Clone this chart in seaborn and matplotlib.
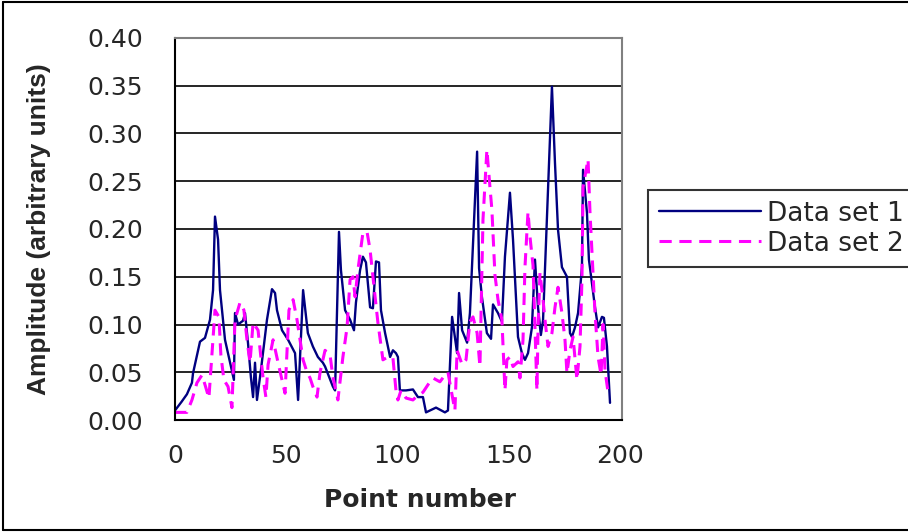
import matplotlib
matplotlib.use("Agg")
import matplotlib.pyplot as plt
import matplotlib.ticker as mticker
import matplotlib.transforms as mtransforms
import seaborn as sns

# valores
ds1_x = [0, 3, 5.5, 7.8, 8.3, 11.5, 13.8, 16.1, 17.5, 18.4, 19.8, 20.7, 23.0, 27.1, 27.6,
         29.0, 31.3, 32.2, 33.6, 34.9, 35.9, 36.8, 37.7, 39.5, 42.3, 44.6, 46.0, 46.9, 49.2,
         52.0, 55.2, 56.6, 58.9, 61.1, 63.4, 65.7, 68.0, 69.0, 72.6, 73.6, 75.4, 76.3, 78.2,
         80.5, 82.3, 83.2, 85.1, 86.4, 87.8, 89.7, 91.0, 92.4, 93.8, 94.7, 96.6, 98.9, 100.2,
         101.6, 102.5, 103.4, 106.2, 109.4, 111.7, 114.0, 115.4, 120.0, 124.1, 125.5, 127.4,
         129.7, 130.6, 132.0, 134.3, 135.6, 138.9, 139.8, 141.1, 143.4, 145.3, 146.2, 148.5,
         150.3, 151.7, 154.0, 155.4, 157.7, 159.5, 160.9, 162.3, 164.1, 165.5, 166.9, 168.2,
         169.2, 173.3, 174.7, 176.1, 177.9, 180.2, 181.6, 182.5, 183.9, 185.3, 187.1, 187.6,
         189.4, 190.3, 193.1, 194.5, 196.3, 197.2, 198.6, 200.0]
ds1_y = [0.010, 0.019, 0.027, 0.039, 0.049, 0.082, 0.086, 0.105, 0.136, 0.213, 0.189, 0.136,
         0.084, 0.042, 0.112, 0.100, 0.104, 0.112, 0.080, 0.045, 0.024, 0.060, 0.021, 0.052,
         0.105, 0.137, 0.133, 0.115, 0.094, 0.084, 0.070, 0.021, 0.136, 0.091, 0.077, 0.066,
         0.060, 0.056, 0.035, 0.031, 0.197, 0.157, 0.115, 0.105, 0.094, 0.123, 0.157, 0.171,
         0.165, 0.118, 0.117, 0.166, 0.165, 0.115, 0.091, 0.066, 0.073, 0.070, 0.066, 0.031,
         0.031, 0.032, 0.024, 0.024, 0.008, 0.013, 0.008, 0.010, 0.108, 0.070, 0.133, 0.094,
         0.081, 0.112, 0.281, 0.159, 0.129, 0.091, 0.085, 0.121, 0.112, 0.103, 0.171, 0.238,
         0.189, 0.087, 0.070, 0.063, 0.070, 0.097, 0.168, 0.118, 0.089, 0.104, 0.349, 0.269,
         0.199, 0.160, 0.150, 0.091, 0.087, 0.097, 0.112, 0.160, 0.262, 0.217, 0.168, 0.118,
         0.097, 0.108, 0.107, 0.077, 0.018]

ds2_x = [0, 5.5, 7.8, 10.1, 12.4, 13.8, 15.6, 18.4, 20.2, 21.1, 22.5, 24.4, 26.2, 27.6, 29.9,
         31.7, 33.1, 34.5, 35.9, 38.2, 40.5, 41.8, 42.8, 45.1, 47.4, 49.7, 50.6, 52.4, 54.3,
         56.1, 57.5, 58.9, 60.7, 62.1, 63.4, 65.3, 66.7, 69.0, 71.3, 72.6, 74.9, 77.2, 79.1,
         80.5, 81.8, 82.8, 84.1, 86.4, 88.3, 89.7, 92.0, 93.3, 95.6, 97.9, 100.2, 101.6, 102.5,
         103.9, 106.2, 109.4, 110.8, 114.0, 117.2, 118.6, 121.8, 124.1, 125.5, 127.4, 128.7,
         129.7, 132.0, 133.8, 135.6, 137.0, 138.9, 140.2, 141.6, 143.4, 144.8, 145.7, 147.1,
         148.5, 150.3, 151.7, 152.6, 154.0, 155.4, 157.7, 158.6, 160.0, 160.9, 162.3, 163.2,
         164.6, 165.5, 166.4, 166.9, 167.8, 169.2, 170.1, 171.5, 173.3, 174.7, 176.1, 177.9,
         179.3, 180.2, 181.6, 183.0, 184.8, 186.2, 187.1, 187.6, 189.9, 190.8, 193.1, 194.5,
         195.9, 196.8, 197.7, 199.1]
ds2_y = [0.008, 0.008, 0.021, 0.039, 0.047, 0.037, 0.023, 0.115, 0.108, 0.068, 0.042, 0.035,
         0.013, 0.105, 0.123, 0.115, 0.084, 0.060, 0.102, 0.094, 0.044, 0.024, 0.058, 0.084,
         0.060, 0.037, 0.028, 0.115, 0.126, 0.105, 0.084, 0.063, 0.050, 0.044, 0.035, 0.024,
         0.050, 0.073, 0.068, 0.045, 0.021, 0.066, 0.097, 0.147, 0.150, 0.129, 0.157, 0.196,
         0.197, 0.178, 0.129, 0.102, 0.063, 0.066, 0.065, 0.031, 0.021, 0.031, 0.023, 0.021,
         0.024, 0.029, 0.040, 0.044, 0.040, 0.047, 0.050, 0.026, 0.010, 0.073, 0.058, 0.063,
         0.103, 0.108, 0.091, 0.056, 0.210, 0.283, 0.244, 0.220, 0.152, 0.126, 0.105, 0.031,
         0.063, 0.066, 0.056, 0.061, 0.044, 0.084, 0.160, 0.218, 0.192, 0.162, 0.097, 0.031,
         0.094, 0.154, 0.126, 0.105, 0.077, 0.091, 0.118, 0.139, 0.112, 0.084, 0.049, 0.073,
         0.087, 0.042, 0.077, 0.147, 0.244, 0.273, 0.217, 0.112, 0.066, 0.047, 0.100, 0.052,
         0.029]

series_names = ["Data set 1", "Data set 2"]
y_ticks = [0.00, 0.05, 0.10, 0.15, 0.20, 0.25, 0.30, 0.35, 0.40]
x_ticks = [0, 50, 100, 150, 200]

sns.set_style("white")
plt.rcParams['font.family'] = ['DejaVu Sans']

fig = plt.figure(figsize=(9.08, 5.32), dpi=100)
ax = fig.add_axes([0.1927, 0.2105, 0.4923, 0.7181])

sns.lineplot(x=ds1_x, y=ds1_y, ax=ax, color='#000080', linewidth=1.7,
             label=series_names[0], estimator=None, sort=False)
sns.lineplot(x=ds2_x, y=ds2_y, ax=ax, color='#FF00FF', linewidth=2.2,
             label=series_names[1], estimator=None, sort=False)
ax.lines[1].set_dashes([4, 2.5])

ax.set_xlim(0, 205.5)
ax.set_ylim(0, 0.4)
ax.set_yticks(y_ticks)
ax.yaxis.set_major_formatter(mticker.FormatStrFormatter('%.2f'))
ax.set_xticks(x_ticks)
ax.xaxis.set_minor_locator(mticker.MultipleLocator(25))
ax.tick_params(axis='both', which='both', direction='out', length=5, width=1.2,
               color='black', labelsize=18, pad=6)
ax.tick_params(axis='x', which='major', pad=12)
ax.tick_params(axis='y', which='major', pad=18)
ax.tick_params(axis='y', which='minor', length=0)

# las etiquetas del eje x van un poco corridas a la derecha, como en el original
for val, lab in zip(x_ticks, ax.get_xticklabels()):
    dx = mtransforms.ScaledTranslation(0.05 * val / 100, 0, fig.dpi_scale_trans)
    lab.set_transform(lab.get_transform() + dx)

ax.grid(axis='y', color='black', linewidth=1.2)
ax.set_axisbelow(True)
for s in ['left', 'bottom']:
    ax.spines[s].set_color('black')
    ax.spines[s].set_linewidth(1.5)
for s in ['top', 'right']:
    ax.spines[s].set_color('#808080')
    ax.spines[s].set_linewidth(1.5)

ax.set_xlabel("Point number", fontsize=18, fontweight='bold')
ax.xaxis.set_label_coords(0.548, -0.178)
ax.set_ylabel("Amplitude (arbitrary units)", fontsize=19, fontweight='bold',
              family='Liberation Sans', labelpad=26)

leg = ax.legend(loc='upper left', bbox_to_anchor=(648 / 908, 1 - 190 / 532),
                bbox_transform=fig.transFigure, fontsize=19, frameon=True,
                fancybox=False, borderaxespad=0, handlelength=3.9, handletextpad=0.2,
                borderpad=0.4, labelspacing=0.15)
leg.get_frame().set_edgecolor('black')
leg.get_frame().set_linewidth(1.5)

# borde exterior del grafico
fig.add_artist(plt.Line2D([0.003, 0.003], [0.004, 0.996], color='black', lw=1.5,
                          transform=fig.transFigure))
fig.add_artist(plt.Line2D([0.003, 1.0], [0.996, 0.996], color='black', lw=1.5,
                          transform=fig.transFigure))
fig.add_artist(plt.Line2D([0.003, 1.0], [0.004, 0.004], color='black', lw=1.5,
                          transform=fig.transFigure))

fig.savefig("out.png", dpi=100)
